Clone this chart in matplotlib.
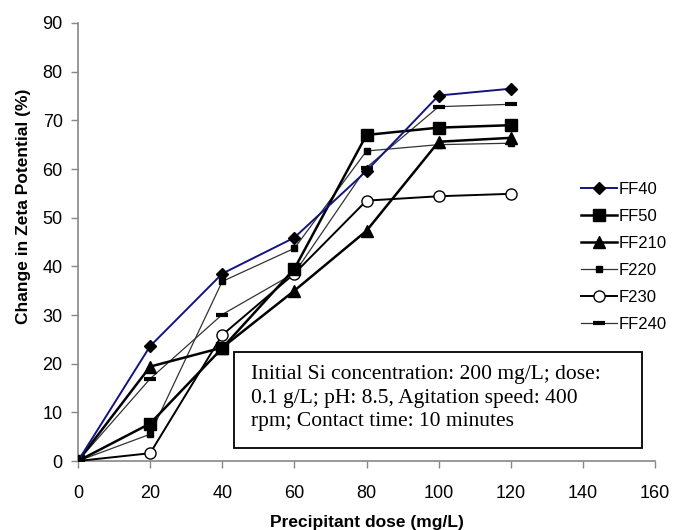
import matplotlib
matplotlib.use("Agg")
import matplotlib.pyplot as plt
from matplotlib.patches import Rectangle

dose = [0, 20, 40, 60, 80, 100, 120]
ff40 = [0, 23.6, 38.5, 45.9, 59.6, 75.1, 76.5]
ff50 = [0, 7.7, 23.2, 39.5, 67.0, 68.5, 69.0]
ff210 = [0, 19.4, 23.3, 35.0, 47.3, 65.6, 66.4]
f220 = [0, 5.5, 36.9, 43.7, 63.7, 65.0, 65.3]
f230 = [0, 1.6, 25.9, 38.5, 53.5, 54.4, 54.9]
ff240 = [0, 16.9, 30.1, 38.6, 60.3, 72.8, 73.3]
labels = ["FF40", "FF50", "FF210", "F220", "F230", "FF240"]
xticks = [0, 20, 40, 60, 80, 100, 120, 140, 160]
yticks = [0, 10, 20, 30, 40, 50, 60, 70, 80, 90]

W, H = 682, 530
plt.rcParams['font.family'] = ['Liberation Sans', 'DejaVu Sans']
fig = plt.figure(figsize=(W / 100, H / 100), dpi=100)
ax = fig.add_axes([78 / W, 1 - 461 / H, (655 - 78) / W, (461 - 23) / H])

ax.plot(dose, ff40, color='#141480', lw=1.4, marker='D', ms=6.5, mfc='black', mec='black', label=labels[0], zorder=5)
ax.plot(dose, ff50, color='black', lw=1.8, marker='s', ms=9, label=labels[1], zorder=4)
ax.plot(dose, ff210, color='black', lw=1.8, marker='^', ms=8, label=labels[2], zorder=4)
ax.plot(dose, f220, color='#333333', lw=0.9, marker='s', ms=5, mfc='black', mec='black', label=labels[3], zorder=3)
ax.plot(dose, f230, color='black', lw=1.4, marker='o', ms=8, mfc='white', mec='black', label=labels[4], zorder=3)
ax.plot(dose, ff240, color='#333333', lw=0.9, marker='_', ms=9, mew=3, mec='black', label=labels[5], zorder=3)

ax.set_xlim(0, 160)
ax.set_ylim(0, 90)
ax.set_xticks(xticks)
ax.set_yticks(yticks)
ax.tick_params(axis='both', labelsize=13, direction='out', color='#888888', length=5, width=1)
ax.tick_params(axis='x', pad=12)
ax.tick_params(axis='y', pad=6)
for s in ['top', 'right']:
    ax.spines[s].set_visible(False)
for s in ['left', 'bottom']:
    ax.spines[s].set_color('#888888')
    ax.spines[s].set_linewidth(1.2)

ax.set_xlabel("Precipitant dose (mg/L)", fontsize=12.5, fontweight='bold')
ax.set_ylabel("Change in Zeta Potential (%)", fontsize=12.5, fontweight='bold')
ax.xaxis.label.set_va('center')
ax.xaxis.set_label_coords(0.5, -(522.5 - 461) / 438)
ax.yaxis.label.set_va('center')
ax.yaxis.set_label_coords((24 - 78) / 577, (461 - 206) / 438)

leg = ax.legend(loc='upper left', bbox_to_anchor=((574 - 78) / 577, 1 - (175 - 23) / 438), frameon=False,
                fontsize=12, handlelength=2.2, handletextpad=0.1, labelspacing=0.72, borderaxespad=0)

rect = Rectangle((234 / W, 1 - 448 / H), 408 / W, 96 / H, transform=fig.transFigure,
                 fc='white', ec='black', lw=1.3, zorder=6)
ax.add_patch(rect)
rect.set_clip_on(False)
ax.text(251 / W, 1 - 398 / H,
        "Initial Si concentration: 200 mg/L; dose:\n0.1 g/L; pH: 8.5, Agitation speed: 400\nrpm; Contact time: 10 minutes",
        transform=fig.transFigure, fontsize=15.5, family='Liberation Serif', va='center', ha='left',
        linespacing=1.32, zorder=7)

fig.savefig("out.png", dpi=100)
